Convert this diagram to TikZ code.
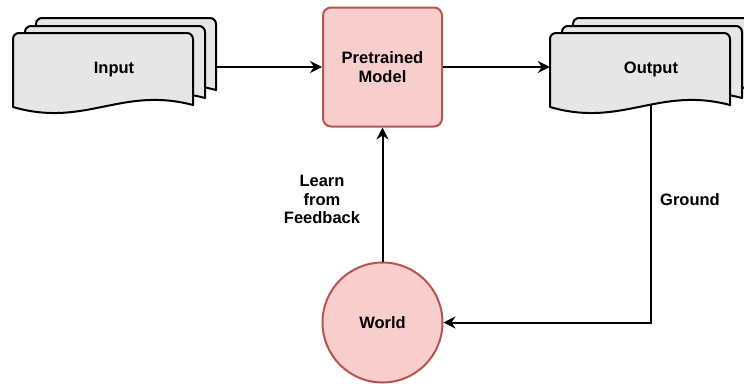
\documentclass[tikz,border=0pt]{standalone}
\usepackage{fontspec}
\setmainfont{Liberation Sans}
\usetikzlibrary{arrows.meta}
\definecolor{docfill}{HTML}{E6E6E6}
\definecolor{pinkfill}{HTML}{F8CECC}
\definecolor{pinkline}{HTML}{B85450}
\newcommand{\docpage}[2]{%
  \draw[docline] (#1,#2+74) [rounded corners=6pt] -- (#1,#2) -- (#1+180,#2) [sharp corners] -- (#1+180,#2+72)
    .. controls (#1+108,#2+53) and (#1+72,#2+95) .. (#1,#2+74) -- cycle;}
\begin{document}
\begin{tikzpicture}[x=1pt,y=-1pt,
  docline/.style={draw=black,fill=docfill,line width=2pt,line join=round},
  lbl/.style={font=\fontsize{16.5}{18.5}\selectfont\bfseries,align=center,inner sep=0pt},
  pinkbox/.style={draw=pinkline,fill=pinkfill,line width=2pt},
  conn/.style={line width=2pt,-{Stealth[length=12pt,width=12pt,inset=4pt]}}]
\useasboundingbox (0,0) rectangle (744,383);
% Input stack
\docpage{36}{18}
\docpage{25}{26}
\docpage{13}{33}
\node[lbl,minimum width=202pt,minimum height=60pt,text depth=0pt] (in) at (114,68) {Input};
% Output stack
\docpage{573}{18}
\docpage{562}{26}
\docpage{550}{33}
\node[lbl,minimum width=202pt,minimum height=60pt,text depth=0pt] (out) at (651,68) {Output};
\coordinate (outbot) at (651,104);
% Pretrained model
\node[pinkbox,rounded corners=8pt,minimum width=119pt,minimum height=119pt,lbl] (pm) at (382.5,67) {Pretrained\\Model};
% World
\node[pinkbox,circle,minimum size=120pt,lbl] (world) at (382.5,322.5) {World};
% Connectors
\draw[conn] (in.east |- pm.west) -- (pm.west);
\draw[conn] (pm.east) -- (pm.east -| out.west);
\draw[conn] (world.north) -- (pm.south);
\draw[conn] (outbot) |- (world.east);
% Labels
\node[lbl] (lff) at (322,199.5) {Learn\\from\\Feedback};
\node[lbl] (gr) at (690,199.5) {Ground};
\end{tikzpicture}
\end{document}
